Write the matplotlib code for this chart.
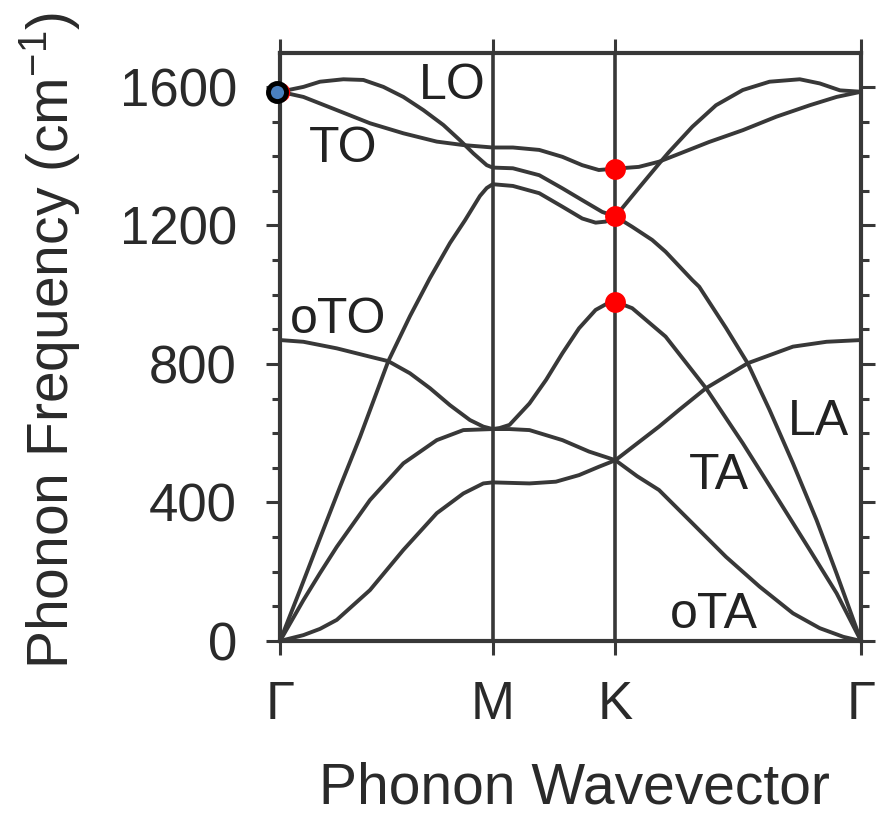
import numpy as np
import matplotlib
matplotlib.use("Agg")
import matplotlib.pyplot as plt
from matplotlib.ticker import MultipleLocator

plt.rcParams['font.family'] = ['Liberation Sans', 'DejaVu Sans']
plt.rcParams['mathtext.fontset'] = 'custom'
plt.rcParams['mathtext.rm'] = 'Liberation Sans'
plt.rcParams['mathtext.it'] = 'Liberation Sans:italic'
plt.rcParams['mathtext.bf'] = 'Liberation Sans:bold'

# High-symmetry path Γ-M-K-Γ (wavevector in units of |ΓM|)
sym_labels = ['Γ', 'M', 'K', 'Γ']
sym_k = [0.0, 1.0, 1.0 + 1.0 / np.sqrt(3), 1.0 + np.sqrt(3)]

# Phonon branches (cm^-1)
LO_k = [0, 0.110, 0.188, 0.298, 0.392, 0.486, 0.580, 0.674, 0.768, 0.846, 0.909, 0.972, 1.0,
        1.095, 1.219, 1.328, 1.421, 1.515, 1.577,
        1.687, 1.790, 1.829, 1.939, 2.050, 2.176, 2.302, 2.444, 2.538, 2.633, 2.732]
LO_f = [1586, 1600, 1615, 1622, 1620, 1600, 1571, 1533, 1490, 1446, 1408, 1374, 1367,
        1365, 1345, 1307, 1273, 1239, 1226,
        1308, 1384, 1412, 1485, 1547, 1591, 1615, 1622, 1610, 1590, 1586]

TO_k = [0, 0.110, 0.267, 0.423, 0.580, 0.737, 0.862, 1.0,
        1.095, 1.219, 1.328, 1.421, 1.499, 1.577,
        1.687, 1.782, 1.861, 2.018, 2.176, 2.334, 2.491, 2.617, 2.732]
TO_f = [1586, 1571, 1533, 1495, 1466, 1442, 1432, 1425,
        1425, 1418, 1398, 1374, 1360, 1364,
        1369, 1384, 1403, 1441, 1475, 1514, 1547, 1571, 1586]

LA_k = [0, 0.094, 0.188, 0.282, 0.376, 0.509, 0.611, 0.705, 0.799, 0.870, 0.940, 0.972, 1.0,
        1.095, 1.219, 1.328, 1.421, 1.484, 1.531, 1.577,
        1.656, 1.750, 1.813, 1.939, 1.971, 2.097, 2.199, 2.302, 2.412, 2.523, 2.617, 2.732]
LA_f = [0, 147, 297, 445, 589, 808, 938, 1048, 1149, 1215, 1285, 1308, 1319,
        1314, 1293, 1254, 1220, 1208, 1211, 1226,
        1196, 1158, 1124, 1042, 1023, 904, 802, 667, 513, 349, 195, 0]

TA_k = [0, 0.110, 0.188, 0.267, 0.423, 0.580, 0.737, 0.862, 1.0,
        1.033, 1.079, 1.173, 1.251, 1.328, 1.406, 1.484, 1.546, 1.577,
        1.656, 1.813, 2.003, 2.176, 2.334, 2.491, 2.617, 2.732]
TA_f = [0, 118, 196, 272, 407, 513, 580, 609, 612,
        615, 624, 686, 754, 831, 903, 956, 977, 980,
        961, 879, 730, 571, 417, 263, 138, 0]

oTO_k = [0, 0.110, 0.267, 0.423, 0.509, 0.611, 0.705, 0.799, 0.893, 0.956, 1.0,
         1.079, 1.173, 1.328, 1.453, 1.577,
         1.782, 1.876, 2.003, 2.199, 2.412, 2.570, 2.732]
oTO_f = [869, 864, 845, 821, 808, 773, 730, 681, 638, 619, 612,
         612, 609, 580, 547, 522,
         619, 667, 730, 802, 850, 864, 869]

oTA_k = [0, 0.110, 0.188, 0.267, 0.423, 0.580, 0.737, 0.862, 0.956, 1.0,
         1.173, 1.297, 1.406, 1.499, 1.577,
         1.679, 1.782, 1.939, 2.097, 2.255, 2.412, 2.538, 2.649, 2.732]
oTA_f = [0, 17, 35, 61, 147, 263, 369, 426, 455, 458,
         455, 460, 479, 503, 522,
         476, 436, 340, 243, 157, 80, 37, 12, 0]

# Branch labels: (text, k, baseline frequency)
branch_names = ['LO', 'TO', 'oTO', 'LA', 'TA', 'oTA']
branch_label_k = [0.811, 0.298, 0.274, 2.533, 2.065, 2.042]
branch_label_f = [1565, 1384, 889, 595, 439, 37]

# Highlighted modes
K_dot_f = [1364, 1226, 980]
G_dot_f = 1586

LINE = '#383838'

fig = plt.figure(figsize=(8.77, 8.15), dpi=100)
ax = fig.add_axes([0.3193, 0.2135, 0.6625, 0.7211])

branches = [(LO_k, LO_f), (TO_k, TO_f), (LA_k, LA_f),
            (TA_k, TA_f), (oTO_k, oTO_f), (oTA_k, oTA_f)]
for k, f in branches:
    ax.plot(k, f, color=LINE, lw=2.8, solid_joinstyle='round',
            solid_capstyle='round', zorder=3)

for xv in sym_k[1:3]:
    ax.axvline(xv, color=LINE, lw=2.6, zorder=2)

for name, kx, fy in zip(branch_names, branch_label_k, branch_label_f):
    ax.text(kx, fy, name, fontsize=36, color='#222222',
            ha='center', va='baseline', zorder=5)

# highlighted points
ax.plot([sym_k[2]] * len(K_dot_f), K_dot_f, 'o', color='#ff0000',
        ms=15, mec='none', zorder=6)
ax.plot([sym_k[0]], [G_dot_f], 'o', color='#ff0000', ms=14, mec='none',
        zorder=6, clip_on=False)
ax.plot([sym_k[0] - 0.0155], [G_dot_f], 'o', mfc='#4a80c0', mec='black',
        mew=3.5, ms=13, zorder=7, clip_on=False)

ax.set_xlim(sym_k[0], sym_k[-1])
ax.set_ylim(0, 1697)
ax.set_xticks(sym_k)
ax.set_xticklabels(sym_labels)
ax.set_yticks([0, 400, 800, 1200, 1600])
ax.yaxis.set_minor_locator(MultipleLocator(100))

for s in ax.spines.values():
    s.set_linewidth(3.0)
    s.set_color(LINE)

ax.tick_params(which='both', direction='out', top=True, right=True,
               width=2.2, color=LINE, labelcolor='#2a2a2a')
ax.tick_params(which='major', length=10, labelsize=38)
ax.tick_params(which='minor', length=6)
ax.tick_params(axis='y', which='major', pad=21)
ax.tick_params(axis='x', which='major', pad=18)

fig.text(574 / 877, 1 - 803 / 815, 'Phonon Wavevector', fontsize=41,
         color='#2a2a2a', ha='center', va='baseline')
fig.text(50 / 877, 1 - 340 / 815, 'Phonon Frequency (cm$^{-1}$)', fontsize=41,
         color='#2a2a2a', ha='center', va='center', rotation=90)

fig.savefig('out.png', dpi=100)
